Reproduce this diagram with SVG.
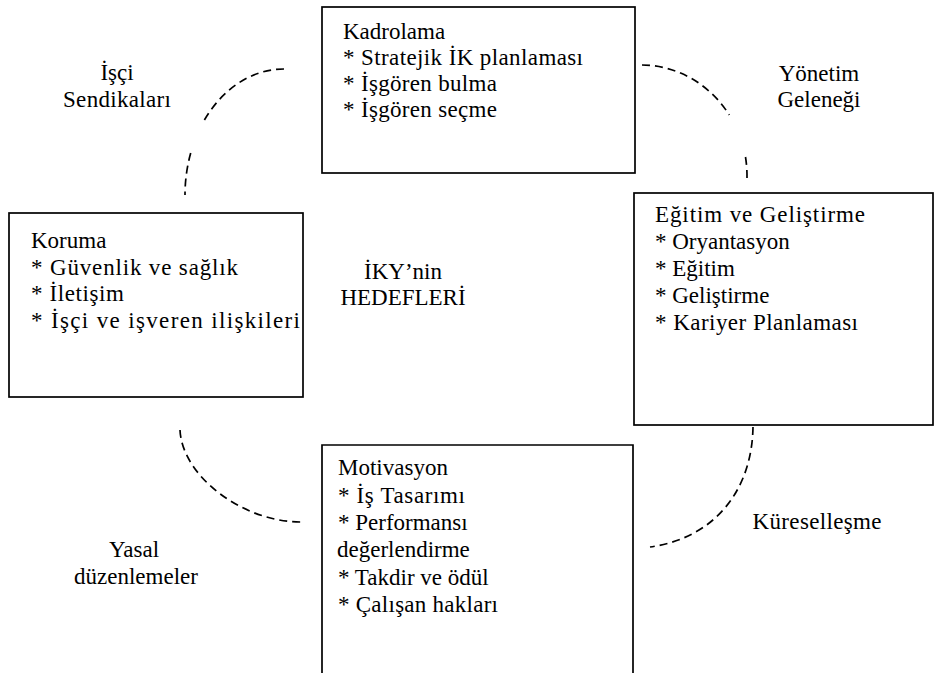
<svg xmlns="http://www.w3.org/2000/svg" width="935" height="673" viewBox="0 0 935 673">
  <style>
    .box { fill: none; stroke: #000; stroke-width: 1.7; }
    .arc { fill: none; stroke: #000; stroke-width: 1.7; stroke-dasharray: 8 5; }
    text { font-family: "Liberation Serif", "Times New Roman", serif; font-size: 23px; fill: #000; }
    .c { text-anchor: middle; }
  </style>
  <rect width="935" height="673" fill="#fff"/>

  <!-- dashed connectors between the function boxes -->
  <g id="connectors">
    <path class="arc" d="M284,69 A99,126 0 0 0 204.4,120"/>
    <path class="arc" d="M190.7,153 A99,126 0 0 0 185,195"/>
    <path class="arc" d="M642,65 A106,113 0 0 1 729.3,115"/>
    <path class="arc" d="M745.5,157 A106,113 0 0 1 747,178"/>
    <path class="arc" d="M180,430 C182,476 243,523 303,522"/>
    <path class="arc" d="M753,427 C752,490 715,538 650,547"/>
  </g>

  <g id="kadrolama">
    <rect class="box" x="322" y="7" width="313" height="166"/>
    <text x="343" y="39">Kadrolama</text>
    <text x="343" y="65" textLength="240" lengthAdjust="spacing">* Stratejik İK planlaması</text>
    <text x="343" y="91" textLength="154" lengthAdjust="spacing">* İşgören bulma</text>
    <text x="343" y="117" textLength="154" lengthAdjust="spacing">* İşgören seçme</text>
  </g>

  <g id="koruma">
    <rect class="box" x="9" y="213" width="294" height="184"/>
    <text x="31" y="248">Koruma</text>
    <text x="31" y="275" textLength="207" lengthAdjust="spacing">* Güvenlik ve sağlık</text>
    <text x="31" y="301" textLength="93" lengthAdjust="spacing">* İletişim</text>
    <text x="31" y="328" textLength="269" lengthAdjust="spacing">* İşçi ve işveren ilişkileri</text>
  </g>

  <g id="egitim">
    <rect class="box" x="634" y="193" width="299" height="232"/>
    <text x="655" y="222" textLength="210" lengthAdjust="spacing">Eğitim ve Geliştirme</text>
    <text x="655" y="249">* Oryantasyon</text>
    <text x="655" y="276">* Eğitim</text>
    <text x="655" y="303">* Geliştirme</text>
    <text x="655" y="330" textLength="203" lengthAdjust="spacing">* Kariyer Planlaması</text>
  </g>

  <g id="motivasyon">
    <path class="box" d="M322,673 V445 H633 V673"/>
    <text x="338" y="475">Motivasyon</text>
    <text x="338" y="503" textLength="127" lengthAdjust="spacing">* İş Tasarımı</text>
    <text x="338" y="530">* Performansı</text>
    <text x="337" y="557">değerlendirme</text>
    <text x="338" y="585">* Takdir ve ödül</text>
    <text x="338" y="612" textLength="160" lengthAdjust="spacing">* Çalışan hakları</text>
  </g>

  <g id="hedefler">
    <text class="c" x="403" y="279">İKY’nin</text>
    <text class="c" x="403" y="305">HEDEFLERİ</text>
  </g>

  <g id="sendikalar">
    <text class="c" x="117" y="80">İşçi</text>
    <text class="c" x="117" y="107" textLength="108" lengthAdjust="spacing">Sendikaları</text>
  </g>

  <g id="yonetim">
    <text class="c" x="819" y="81">Yönetim</text>
    <text class="c" x="819" y="107">Geleneği</text>
  </g>

  <g id="yasal">
    <text class="c" x="134" y="557">Yasal</text>
    <text class="c" x="136" y="584">düzenlemeler</text>
  </g>

  <g id="kuresellesme">
    <text class="c" x="817" y="529" textLength="129" lengthAdjust="spacing">Küreselleşme</text>
  </g>
</svg>
